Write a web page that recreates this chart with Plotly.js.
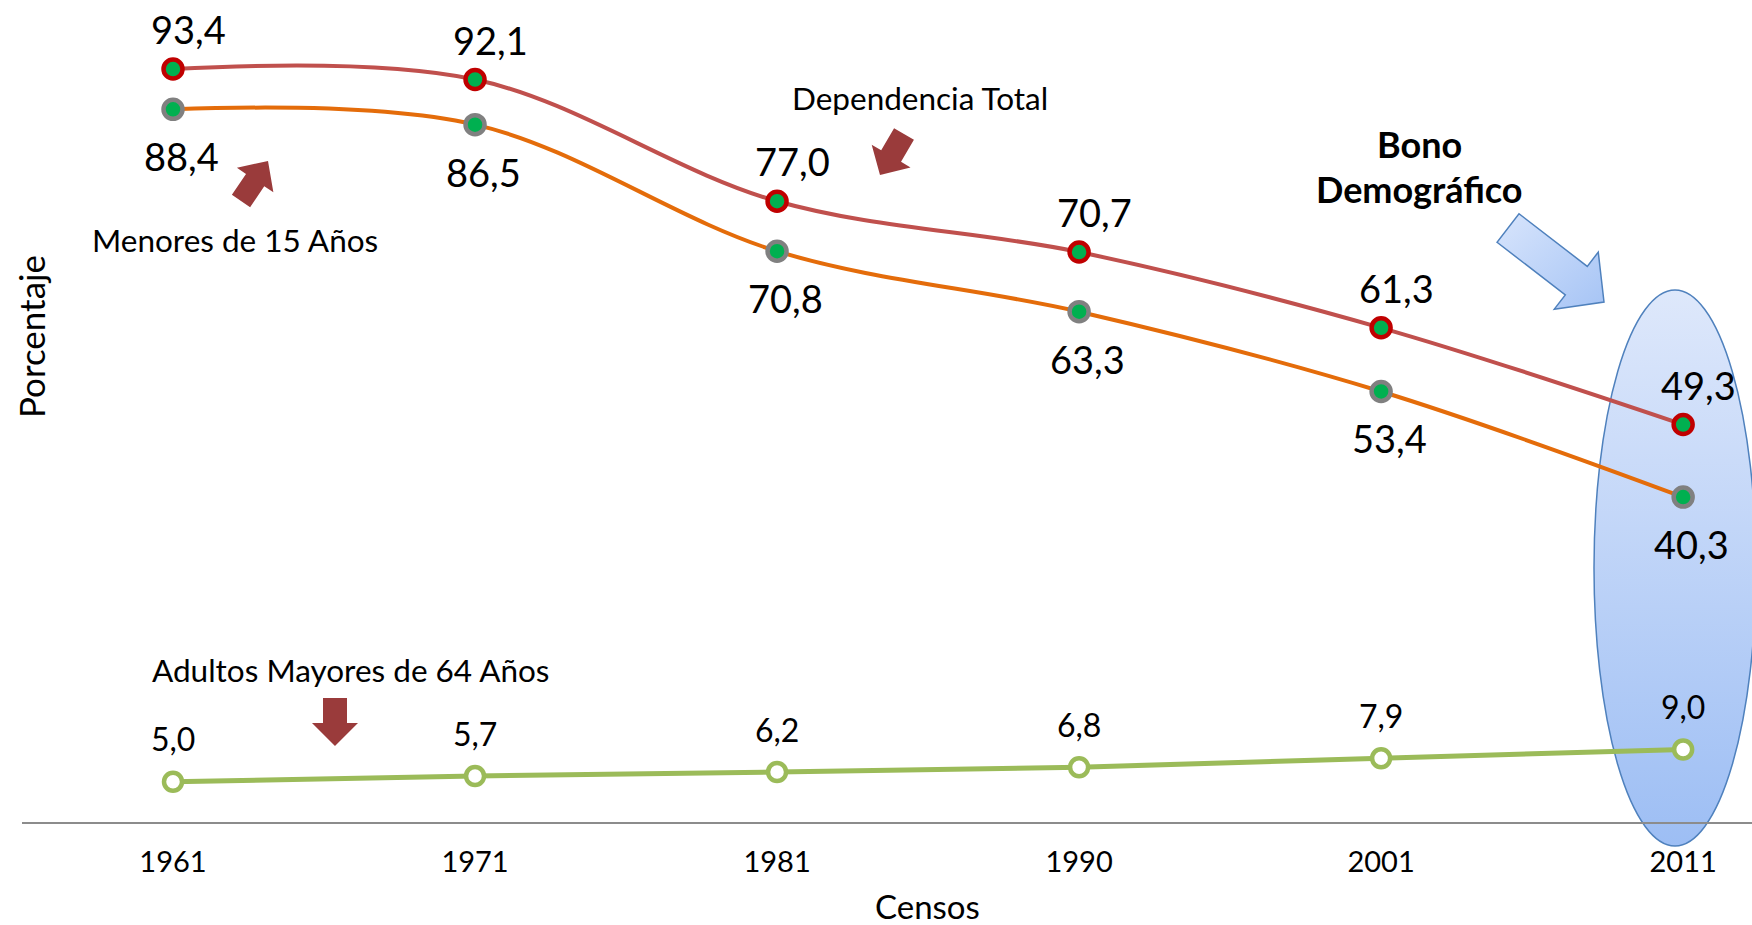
<!DOCTYPE html>
<html>
<head>
<meta charset="utf-8">
<script src="https://cdn.plot.ly/plotly-3.0.1.min.js"></script>
<style>
html,body{margin:0;padding:0;background:#fff;}
#chart{width:1752px;height:925px;}
</style>
</head>
<body>
<div id="chart"></div>
<script>
// datos de los censos
const censos = ['1961','1971','1981','1990','2001','2011'];
const depTotal = [93.4, 92.1, 77.0, 70.7, 61.3, 49.3];
const menores15 = [88.4, 86.5, 70.8, 63.3, 53.4, 40.3];
const mayores64 = [5.0, 5.7, 6.2, 6.8, 7.9, 9.0];

const FONT = 'Lato, "Open Sans", sans-serif';

// plot area in pixels: left 22, bottom 822, width 1730, height 802
function px(x){ return (x-22)/1730; }
function py(y){ return (822-y)/802; }

function lbl(v){ return v.toFixed(1).replace('.', ','); }

function blockArrow(t,h,sw,hw,hl){
  const dx=h[0]-t[0], dy=h[1]-t[1], L=Math.hypot(dx,dy);
  const ux=dx/L, uy=dy/L, nx=-uy, ny=ux;
  const b=[h[0]-ux*hl, h[1]-uy*hl];
  const pts=[
    [t[0]+nx*sw/2, t[1]+ny*sw/2],
    [b[0]+nx*sw/2, b[1]+ny*sw/2],
    [b[0]+nx*hw/2, b[1]+ny*hw/2],
    h,
    [b[0]-nx*hw/2, b[1]-ny*hw/2],
    [b[0]-nx*sw/2, b[1]-ny*sw/2],
    [t[0]-nx*sw/2, t[1]-ny*sw/2]
  ];
  return 'M'+pts.map(p=>px(p[0]).toFixed(5)+','+py(p[1]).toFixed(5)).join(' L')+' Z';
}

const data = [
  {
    x: censos, y: depTotal, name: 'Dependencia Total',
    mode: 'lines+markers', cliponaxis: false,
    line: {color: '#C0504D', width: 4, shape: 'spline', smoothing: 1},
    marker: {size: 19, color: '#00B050', line: {color: '#C00000', width: 4.5}}
  },
  {
    x: censos, y: menores15, name: 'Menores de 15 Años',
    mode: 'lines+markers', cliponaxis: false,
    line: {color: '#E46C0A', width: 4, shape: 'spline', smoothing: 1},
    marker: {size: 19, color: '#00B050', line: {color: '#808080', width: 4.5}}
  },
  {
    x: censos, y: mayores64, name: 'Adultos Mayores de 64 Años',
    mode: 'lines+markers', cliponaxis: false,
    line: {color: '#9BBB59', width: 5},
    marker: {size: 18, color: '#ffffff', line: {color: '#9BBB59', width: 4.5}}
  }
];

// etiquetas de valores (x como índice de categoría)
let annotations = [];
depTotal.forEach((v,i)=>annotations.push({
  x: i, y: v, text: lbl(v), showarrow: false,
  xshift: 15, yshift: 40, font: {family: FONT, size: 38, color: '#000'}
}));
menores15.forEach((v,i)=>annotations.push({
  x: i, y: v, text: lbl(v), showarrow: false,
  xshift: 8, yshift: -47, font: {family: FONT, size: 38, color: '#000'}
}));
mayores64.forEach((v,i)=>annotations.push({
  x: i, y: v, text: lbl(v), showarrow: false,
  xshift: 0, yshift: 43, font: {family: FONT, size: 32, color: '#000'}
}));

function note(text,x,y,size,extra){
  return Object.assign({
    xref: 'paper', yref: 'paper', x: px(x), y: py(y), text: text,
    showarrow: false, xanchor: 'center', yanchor: 'middle',
    font: {family: FONT, size: size, color: '#000'}
  }, extra || {});
}

annotations.push(note('Menores de 15 Años', 235, 240, 31.5));
annotations.push(note('Dependencia Total', 920, 98, 31.5));
annotations.push(note('Adultos Mayores de 64 Años', 350, 670, 31.5));
annotations.push(note('<b>Bono</b>', 1419, 144, 36));
annotations.push(note('<b>Demográfico</b>', 1419, 189, 36));
annotations.push(note('Porcentaje', 31, 337, 35, {textangle: -90}));
annotations.push(note('Censos', 927, 906, 33));

const shapes = [
  {
    type: 'circle', xref: 'paper', yref: 'paper', layer: 'below',
    x0: px(1594), x1: px(1756), y0: py(846), y1: py(290),
    fillcolor: '#C3D6F7', line: {color: '#4F81BD', width: 1.5}
  },
  {
    type: 'path', xref: 'paper', yref: 'paper', layer: 'above',
    path: blockArrow([1508,228],[1604,302],36,72,35),
    fillcolor: '#C0D5F8', line: {color: '#4F81BD', width: 1.5}
  },
  {
    type: 'path', xref: 'paper', yref: 'paper',
    path: blockArrow([241,201],[268,161],22,44,23),
    fillcolor: '#9A3B3B', line: {width: 0}
  },
  {
    type: 'path', xref: 'paper', yref: 'paper',
    path: blockArrow([904,134],[880,175],23,45,22),
    fillcolor: '#9A3B3B', line: {width: 0}
  },
  {
    type: 'path', xref: 'paper', yref: 'paper',
    path: blockArrow([335,698],[335,746],24,46,23),
    fillcolor: '#9A3B3B', line: {width: 0}
  }
];

const layout = {
  width: 1752, height: 925,
  margin: {l: 22, r: 0, t: 20, b: 103},
  paper_bgcolor: '#ffffff',
  plot_bgcolor: 'rgba(0,0,0,0)',
  showlegend: false,
  font: {family: FONT, color: '#000'},
  xaxis: {
    type: 'category', range: [-0.5, 5.228],
    showline: true, linecolor: '#8C8C8C', linewidth: 2,
    showgrid: false, zeroline: false, ticks: '',
    ticklabelstandoff: 13,
    tickfont: {family: FONT, size: 29, color: '#000'}
  },
  yaxis: {
    range: [0, 99.48], visible: false, showgrid: false, zeroline: false
  },
  annotations: annotations,
  shapes: shapes
};

function addGrad(defs,id,x1,y1,x2,y2,c1,c2){
  const ns = 'http://www.w3.org/2000/svg';
  const g = document.createElementNS(ns,'linearGradient');
  g.setAttribute('id',id);
  g.setAttribute('x1',x1); g.setAttribute('y1',y1);
  g.setAttribute('x2',x2); g.setAttribute('y2',y2);
  [[0,c1],[1,c2]].forEach(s=>{
    const st = document.createElementNS(ns,'stop');
    st.setAttribute('offset',s[0]);
    st.setAttribute('stop-color',s[1]);
    g.appendChild(st);
  });
  defs.appendChild(g);
}

Plotly.newPlot('chart', data, layout, {displayModeBar: false, staticPlot: true}).then(gd=>{
  const svg = gd.querySelector('svg.main-svg');
  const defs = svg.querySelector('defs');
  addGrad(defs,'gradEll','0','0','0','1','#DEE8FB','#9DBEF4');
  addGrad(defs,'gradArr','0','0','1','1','#D8E5FC','#A6C4F5');
  const ell = gd.querySelector('.shapelayer path[data-index="0"]');
  if(ell) ell.style.fill = 'url(#gradEll)';
  const arr = gd.querySelector('.shapelayer path[data-index="1"]');
  if(arr) arr.style.fill = 'url(#gradArr)';
});
</script>
</body>
</html>
